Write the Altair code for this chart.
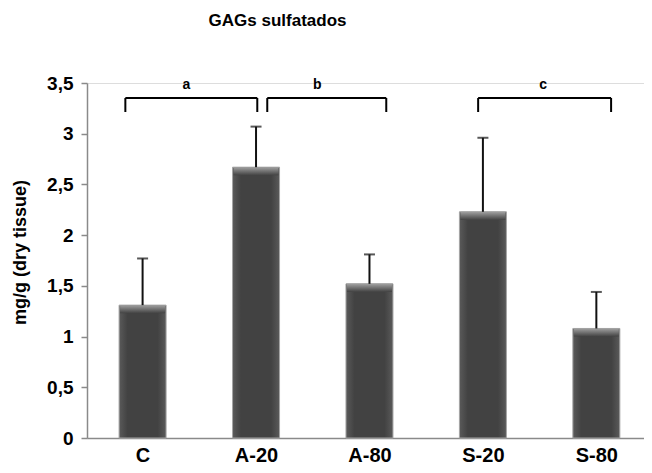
import altair as alt
import pandas as pd

# ---- data ----
groups = ["C", "A-20", "A-80", "S-20", "S-80"]
positions = [0.5, 1.5, 2.5, 3.5, 4.5]
means = [1.31, 2.67, 1.52, 2.23, 1.08]
errors = [0.46, 0.40, 0.29, 0.73, 0.36]

bracket_labels = ["a", "b", "c"]
bracket_start = [0.348, 1.599, 3.458]
bracket_end = [1.511, 2.648, 4.630]
bracket_label_x = [0.886, 2.04, 4.03]
bracket_top = 3.352
bracket_bottom = 3.214
label_y = 3.48

df = pd.DataFrame({"group": groups, "pos": positions, "mean": means, "err": errors})
df["upper"] = df["mean"] + df["err"]
df["bevel"] = df["mean"] - 0.08

br = pd.DataFrame({"label": bracket_labels, "x1": bracket_start, "x2": bracket_end,
                   "lx": bracket_label_x})
br["ytop"] = bracket_top
br["ybot"] = bracket_bottom
br["ly"] = label_y

label_expr = "[" + ",".join(f"'{g}'" for g in groups) + "][floor(datum.value)]"

xscale = alt.Scale(domain=[0.054, 4.876], nice=False, zero=False)
yscale = alt.Scale(domain=[0, 3.5], nice=False)

x_axis = alt.Axis(values=positions, labelExpr=label_expr, title=None, ticks=False,
                  grid=False, domainColor="#8a8a8a", domainWidth=1.5,
                  labelFont="Liberation Sans", labelFontSize=20, labelFontWeight="bold",
                  labelColor="#000000", labelPadding=7)
y_axis = alt.Axis(values=[0, 0.5, 1, 1.5, 2, 2.5, 3, 3.5],
                  labelExpr="replace(format(datum.value, '.1~f'), '.', ',')",
                  title="mg/g (dry tissue)", grid=False, domainColor="#8a8a8a",
                  domainWidth=1.5, tickColor="#8a8a8a", tickSize=6, tickWidth=1.5,
                  labelFont="Liberation Sans", labelFontSize=19, labelFontWeight="bold",
                  labelColor="#000000", labelPadding=8,
                  titleFont="Liberation Sans", titleFontSize=18, titleFontWeight="bold",
                  titleColor="#000000", titleX=-67, titleY=169, titleAngle=-90,
                  titleAlign="center", titleBaseline="middle")

base = alt.Chart(df)

bar_fill = alt.LinearGradient(
    gradient="linear",
    stops=[alt.GradientStop(color="#5a5a5a", offset=0),
           alt.GradientStop(color="#424242", offset=0.18),
           alt.GradientStop(color="#424242", offset=0.82),
           alt.GradientStop(color="#5a5a5a", offset=1)],
    x1=0, x2=1, y1=0, y2=0)

bars = base.mark_bar(size=47, color=bar_fill, stroke="#a5a5a5", strokeWidth=1).encode(
    x=alt.X("pos:Q", scale=xscale, axis=x_axis),
    y=alt.Y("mean:Q", scale=yscale, axis=y_axis),
    y2=alt.datum(0),
)

bevel_fill = alt.LinearGradient(
    gradient="linear",
    stops=[alt.GradientStop(color="#a0a0a0", offset=0),
           alt.GradientStop(color="#424242", offset=1)],
    x1=0, x2=0, y1=0, y2=1)

bevel = base.mark_bar(size=45, color=bevel_fill).encode(
    x=alt.X("pos:Q", scale=xscale),
    y=alt.Y("mean:Q", scale=yscale),
    y2="bevel:Q",
)

err_rule = base.mark_rule(color="#111111", strokeWidth=2).encode(
    x=alt.X("pos:Q", scale=xscale),
    y=alt.Y("mean:Q", scale=yscale),
    y2="upper:Q",
)

err_cap = base.mark_tick(color="#111111", orient="horizontal", size=11, thickness=2).encode(
    x=alt.X("pos:Q", scale=xscale),
    y=alt.Y("upper:Q", scale=yscale),
)

bchart = alt.Chart(br)
b_h = bchart.mark_rule(color="#000000", strokeWidth=2).encode(
    x=alt.X("x1:Q", scale=xscale), x2="x2:Q",
    y=alt.Y("ytop:Q", scale=yscale),
)
b_l = bchart.mark_rule(color="#000000", strokeWidth=2).encode(
    x=alt.X("x1:Q", scale=xscale),
    y=alt.Y("ytop:Q", scale=yscale), y2="ybot:Q",
)
b_r = bchart.mark_rule(color="#000000", strokeWidth=2).encode(
    x=alt.X("x2:Q", scale=xscale),
    y=alt.Y("ytop:Q", scale=yscale), y2="ybot:Q",
)
b_t = bchart.mark_text(font="Liberation Sans", fontSize=14, fontWeight="bold",
                       color="#000000", baseline="middle", align="center").encode(
    x=alt.X("lx:Q", scale=xscale),
    y=alt.Y("ly:Q", scale=yscale),
    text="label:N",
)

chart = alt.layer(bars, bevel, err_rule, err_cap, b_h, b_l, b_r, b_t).properties(
    width=557, height=355,
    autosize=alt.AutoSizeParams(type="none"),
    padding={"left": 79, "top": 75, "right": 0, "bottom": 27},
    title=alt.TitleParams("GAGs sulfatados", font="Liberation Sans", fontSize=17,
                          fontWeight="bold", color="#000000", anchor="middle",
                          dx=-88, offset=44),
).configure_view(stroke=None).configure(background="white")

chart.save("out.html", embed_options={"renderer": "svg", "actions": False})
